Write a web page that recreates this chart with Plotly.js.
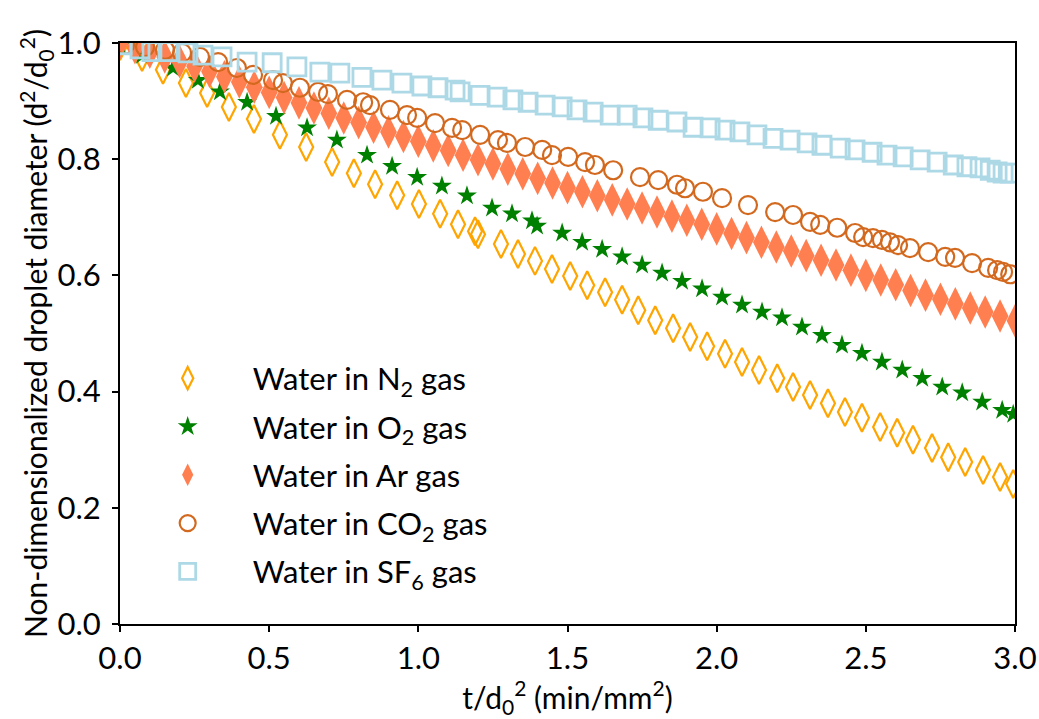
<!DOCTYPE html>
<html>
<head>
<meta charset="utf-8">
<script src="https://cdn.plot.ly/plotly-3.0.1.min.js"></script>
<style>html,body{margin:0;padding:0;background:#fff;}</style>
</head>
<body>
<div id="chart" style="width:1039px;height:719px;"></div>
<script>
// ---- data ----
const n2T = [0.00,0.074,0.144,0.221,0.292,0.365,0.449,0.536,0.624,0.711,0.784,0.855,0.929,1.002,1.073,1.133,1.190,1.200,1.277,1.334,1.391,1.448,1.509,1.566,1.626,1.683,1.737,1.794,1.854,1.911,1.968,2.028,2.085,2.142,2.203,2.256,2.313,2.373,2.430,2.487,2.548,2.605,2.658,2.722,2.776,2.833,2.893,2.950,2.994];
const n2Y = [0.995,0.976,0.954,0.931,0.914,0.890,0.869,0.842,0.821,0.795,0.776,0.757,0.738,0.723,0.706,0.688,0.676,0.671,0.654,0.637,0.625,0.611,0.599,0.583,0.571,0.558,0.540,0.523,0.509,0.494,0.478,0.465,0.451,0.437,0.423,0.408,0.394,0.380,0.365,0.355,0.339,0.329,0.317,0.303,0.287,0.279,0.265,0.253,0.241];

const o2T = [0.00,0.074,0.178,0.261,0.335,0.426,0.523,0.627,0.727,0.828,0.912,0.996,1.079,1.163,1.247,1.314,1.381,1.398,1.482,1.549,1.616,1.683,1.750,1.817,1.884,1.951,2.018,2.085,2.152,2.219,2.286,2.353,2.420,2.487,2.554,2.622,2.689,2.756,2.823,2.890,2.957,2.994];
const o2Y = [0.995,0.979,0.957,0.936,0.916,0.898,0.874,0.854,0.833,0.807,0.788,0.769,0.754,0.737,0.716,0.706,0.694,0.685,0.673,0.657,0.645,0.632,0.618,0.604,0.590,0.577,0.563,0.549,0.537,0.527,0.511,0.497,0.480,0.466,0.451,0.437,0.423,0.408,0.398,0.382,0.368,0.361];

const arT = [0.00,0.05,0.10,0.15,0.20,0.25,0.30,0.35,0.40,0.45,0.50,0.55,0.60,0.65,0.70,0.75,0.80,0.85,0.90,0.95,1.00,1.05,1.10,1.15,1.20,1.25,1.30,1.35,1.40,1.45,1.50,1.55,1.60,1.65,1.70,1.75,1.80,1.85,1.90,1.95,2.00,2.05,2.10,2.15,2.20,2.25,2.30,2.35,2.40,2.45,2.50,2.55,2.60,2.65,2.70,2.75,2.80,2.85,2.90,2.95,3.00];
const arY = [1.000,0.992,0.984,0.976,0.968,0.960,0.951,0.942,0.933,0.924,0.915,0.906,0.897,0.888,0.879,0.871,0.863,0.855,0.847,0.839,0.831,0.823,0.815,0.807,0.799,0.792,0.783,0.775,0.767,0.759,0.751,0.744,0.737,0.730,0.723,0.716,0.709,0.702,0.695,0.688,0.680,0.672,0.665,0.657,0.649,0.642,0.634,0.626,0.618,0.609,0.600,0.592,0.584,0.574,0.566,0.559,0.551,0.544,0.537,0.530,0.522];

const co2T = [0.017,0.084,0.151,0.208,0.268,0.329,0.392,0.446,0.513,0.546,0.603,0.664,0.697,0.761,0.815,0.838,0.905,0.962,0.996,1.056,1.113,1.147,1.207,1.267,1.297,1.358,1.415,1.448,1.502,1.559,1.592,1.653,1.743,1.804,1.867,1.894,1.954,2.018,2.105,2.196,2.256,2.313,2.347,2.404,2.464,2.491,2.524,2.554,2.581,2.608,2.648,2.709,2.766,2.799,2.856,2.910,2.940,2.960,2.984];
const co2Y = [0.997,0.993,0.988,0.983,0.976,0.967,0.957,0.945,0.936,0.931,0.923,0.916,0.912,0.902,0.898,0.893,0.885,0.876,0.871,0.862,0.854,0.850,0.842,0.833,0.828,0.821,0.816,0.807,0.804,0.795,0.790,0.781,0.769,0.764,0.756,0.750,0.744,0.733,0.721,0.709,0.704,0.692,0.687,0.682,0.673,0.666,0.664,0.661,0.657,0.652,0.647,0.640,0.632,0.630,0.621,0.613,0.609,0.606,0.602];

const sf6T = [0.007,0.067,0.107,0.161,0.228,0.278,0.342,0.426,0.510,0.593,0.670,0.737,0.811,0.878,0.945,1.012,1.066,1.123,1.140,1.207,1.264,1.317,1.368,1.425,1.482,1.532,1.586,1.643,1.700,1.753,1.804,1.867,1.921,1.978,2.028,2.078,2.135,2.189,2.246,2.303,2.353,2.414,2.464,2.521,2.571,2.625,2.682,2.739,2.793,2.839,2.883,2.917,2.940,2.960,2.984];
const sf6Y = [0.997,0.990,0.985,0.985,0.983,0.979,0.976,0.967,0.966,0.959,0.950,0.948,0.941,0.936,0.931,0.926,0.923,0.919,0.916,0.910,0.907,0.902,0.898,0.893,0.890,0.885,0.881,0.876,0.876,0.871,0.867,0.864,0.855,0.854,0.850,0.847,0.842,0.836,0.833,0.828,0.824,0.819,0.816,0.812,0.807,0.804,0.799,0.795,0.790,0.787,0.785,0.781,0.778,0.776,0.776];

const seriesNames = ['Water in N<sub>2</sub> gas','Water in O<sub>2</sub> gas','Water in Ar gas','Water in CO<sub>2</sub> gas','Water in SF<sub>6</sub> gas'];
const xTickVals = [0,0.5,1,1.5,2,2.5,3];
const xTickText = ['0.0','0.5','1.0','1.5','2.0','2.5','3.0'];
const yTickVals = [0,0.2,0.4,0.6,0.8,1.0];
const yTickText = ['0.0','0.2','0.4','0.6','0.8','1.0'];

const FONT = 'Lato, "Open Sans", sans-serif';

const traces = [
  {x:n2T, y:n2Y, name:seriesNames[0], legendgroup:'g1', mode:'markers', type:'scatter',
   marker:{symbol:'diamond-tall-open', size:20, color:'#FFA500', line:{width:2.2, color:'#FFA500'}}},
  {x:o2T, y:o2Y, name:seriesNames[1], legendgroup:'g2', mode:'markers', type:'scatter',
   marker:{symbol:'star', size:15, color:'#008000', line:{width:0}}},
  {x:arT, y:arY, name:seriesNames[2], legendgroup:'g3', mode:'markers', type:'scatter',
   marker:{symbol:'diamond-tall', size:24, color:'#FF7F50', line:{width:0}}},
  {x:co2T, y:co2Y, name:seriesNames[3], legendgroup:'g4', mode:'markers', type:'scatter',
   marker:{symbol:'circle-open', size:18, color:'#D2691E', line:{width:2.2, color:'#D2691E'}}},
  {x:sf6T, y:sf6Y, name:seriesNames[4], legendgroup:'g5', mode:'markers', type:'scatter',
   marker:{symbol:'square-open', size:18, color:'#ADD8E6', line:{width:2.8, color:'#ADD8E6'}}}
];

const layout = {
  width:1039, height:719,
  margin:{l:120, r:24, t:43, b:95},
  paper_bgcolor:'#fff', plot_bgcolor:'#fff',
  font:{family:FONT, size:30, color:'#000'},
  showlegend:true,
  legend:{x:0.003, y:0.469, xanchor:'left', yanchor:'top', bgcolor:'rgba(0,0,0,0)',
          font:{family:FONT, size:31, color:'#000'}, tracegroupgap:5, itemwidth:120},
  xaxis:{range:[0,3], tickvals:xTickVals, ticktext:xTickText, ticks:'outside', ticklen:6, tickwidth:1.5,
         tickcolor:'#000', showline:true, linecolor:'#000', linewidth:2, mirror:true, showgrid:false, zeroline:false,
         tickfont:{family:FONT, size:31},
         title:{text:'t/d<sub>0</sub><sup>2</sup> (min/mm<sup>2</sup>)', font:{family:FONT, size:30}, standoff:2}},
  yaxis:{range:[0,1], tickvals:yTickVals, ticktext:yTickText, ticks:'outside', ticklen:6, tickwidth:1.5,
         tickcolor:'#000', showline:true, linecolor:'#000', linewidth:2, mirror:true, showgrid:false, zeroline:false,
         tickfont:{family:FONT, size:31}, ticklabelstandoff:5,
         title:{text:'Non-dimensionalized droplet diameter (d<sup>2</sup>/d<sub>0</sub><sup>2</sup>)', font:{family:FONT, size:30}, standoff:0}}
};

Plotly.newPlot('chart', traces, layout, {displayModeBar:false});
</script>
</body>
</html>
